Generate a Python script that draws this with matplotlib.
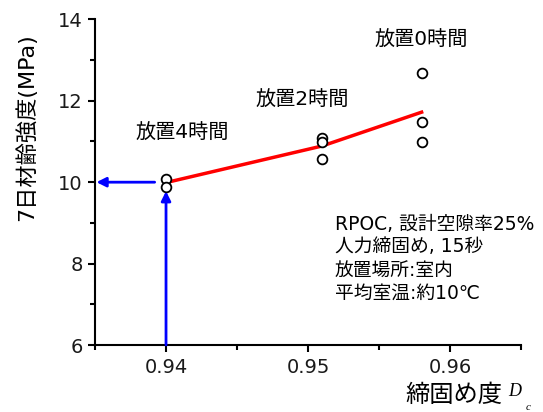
import matplotlib
matplotlib.use("Agg")
import matplotlib.pyplot as plt
from matplotlib.ticker import MultipleLocator

plt.rcParams['font.family'] = ['DejaVu Sans', 'Noto Sans CJK JP']

# Compaction degree and 7-day strength for each standing time
dc_points = [0.940, 0.940, 0.951, 0.951, 0.951, 0.958, 0.958, 0.958]
strength_points = [10.09, 9.88, 11.09, 10.99, 10.58, 12.69, 11.48, 10.98]

# Mean trend line
dc_mean = [0.940, 0.951, 0.958]
strength_mean = [9.99, 10.89, 11.72]

group_labels = ['放置4時間', '放置2時間', '放置0時間']
label_x = [0.94116, 0.94961, 0.95796]
label_y = [11.2, 12.02, 13.49]

note_lines = ['RPOC, 設計空隙率25%', '人力締固め, 15秒', '放置場所:室内', '平均室温:約10℃']

target_dc = 0.940
target_strength = 10.0

fig = plt.figure(figsize=(5.43, 4.12), dpi=100)
ax = fig.add_axes([0.175, 0.1626, 0.7845, 0.7904])

ax.plot(dc_mean, strength_mean, color='#ff0000', lw=2.5, zorder=2)
ax.plot(dc_points, strength_points, 'o', ms=7, mfc='white', mec='black',
        mew=1.3, zorder=3)

# Reading arrows
ax.annotate('', xy=(target_dc, 9.78), xytext=(target_dc, 6.0),
            arrowprops=dict(arrowstyle='-|>', color='#0000ff', lw=2,
                            mutation_scale=14, shrinkA=0, shrinkB=0))
ax.annotate('', xy=(0.9351, target_strength), xytext=(0.9392, target_strength),
            arrowprops=dict(arrowstyle='-|>', color='#0000ff', lw=2,
                            mutation_scale=14, shrinkA=0, shrinkB=0))

for t, x, y in zip(group_labels, label_x, label_y):
    ax.text(x, y, t, fontsize=14.5, ha='center', va='center')

for i, line in enumerate(note_lines):
    fig.text(335 / 543, 1 - (224 + i * 23) / 412, line, fontsize=13.5,
             ha='left', va='center')

ax.set_xlim(0.935, 0.965)
ax.set_ylim(6, 14)
ax.xaxis.set_minor_locator(MultipleLocator(0.005))
ax.yaxis.set_major_locator(MultipleLocator(2))
ax.yaxis.set_minor_locator(MultipleLocator(1))
ax.set_xticks([0.94, 0.95, 0.96])
ax.set_xticklabels(['0.94', '0.95', '0.96'])

for side in ['top', 'right']:
    ax.spines[side].set_visible(False)
for side in ['left', 'bottom']:
    ax.spines[side].set_linewidth(1.5)

ax.tick_params(which='major', direction='out', length=5, width=1.5,
               labelsize=14, pad=4, labelcolor='#1a1a1a')
ax.tick_params(which='minor', direction='out', length=3.5, width=1.5)

fig.text(26 / 543, 1 - 127 / 412, '7日材齢強度(MPa)', rotation=90,
         fontsize=16, ha='center', va='center')
fig.text(405 / 543, 1 - 402 / 412, '締固め度', fontsize=17.5,
         ha='left', va='baseline')
fig.text(508 / 543, 1 - 396 / 412, 'D', fontsize=13, family='Liberation Serif',
         style='italic', ha='left', va='baseline')
fig.text(526 / 543, 1 - 410.5 / 412, 'c', fontsize=8, family='Liberation Serif',
         style='italic', ha='left', va='baseline')

fig.savefig('out.png', dpi=100)
